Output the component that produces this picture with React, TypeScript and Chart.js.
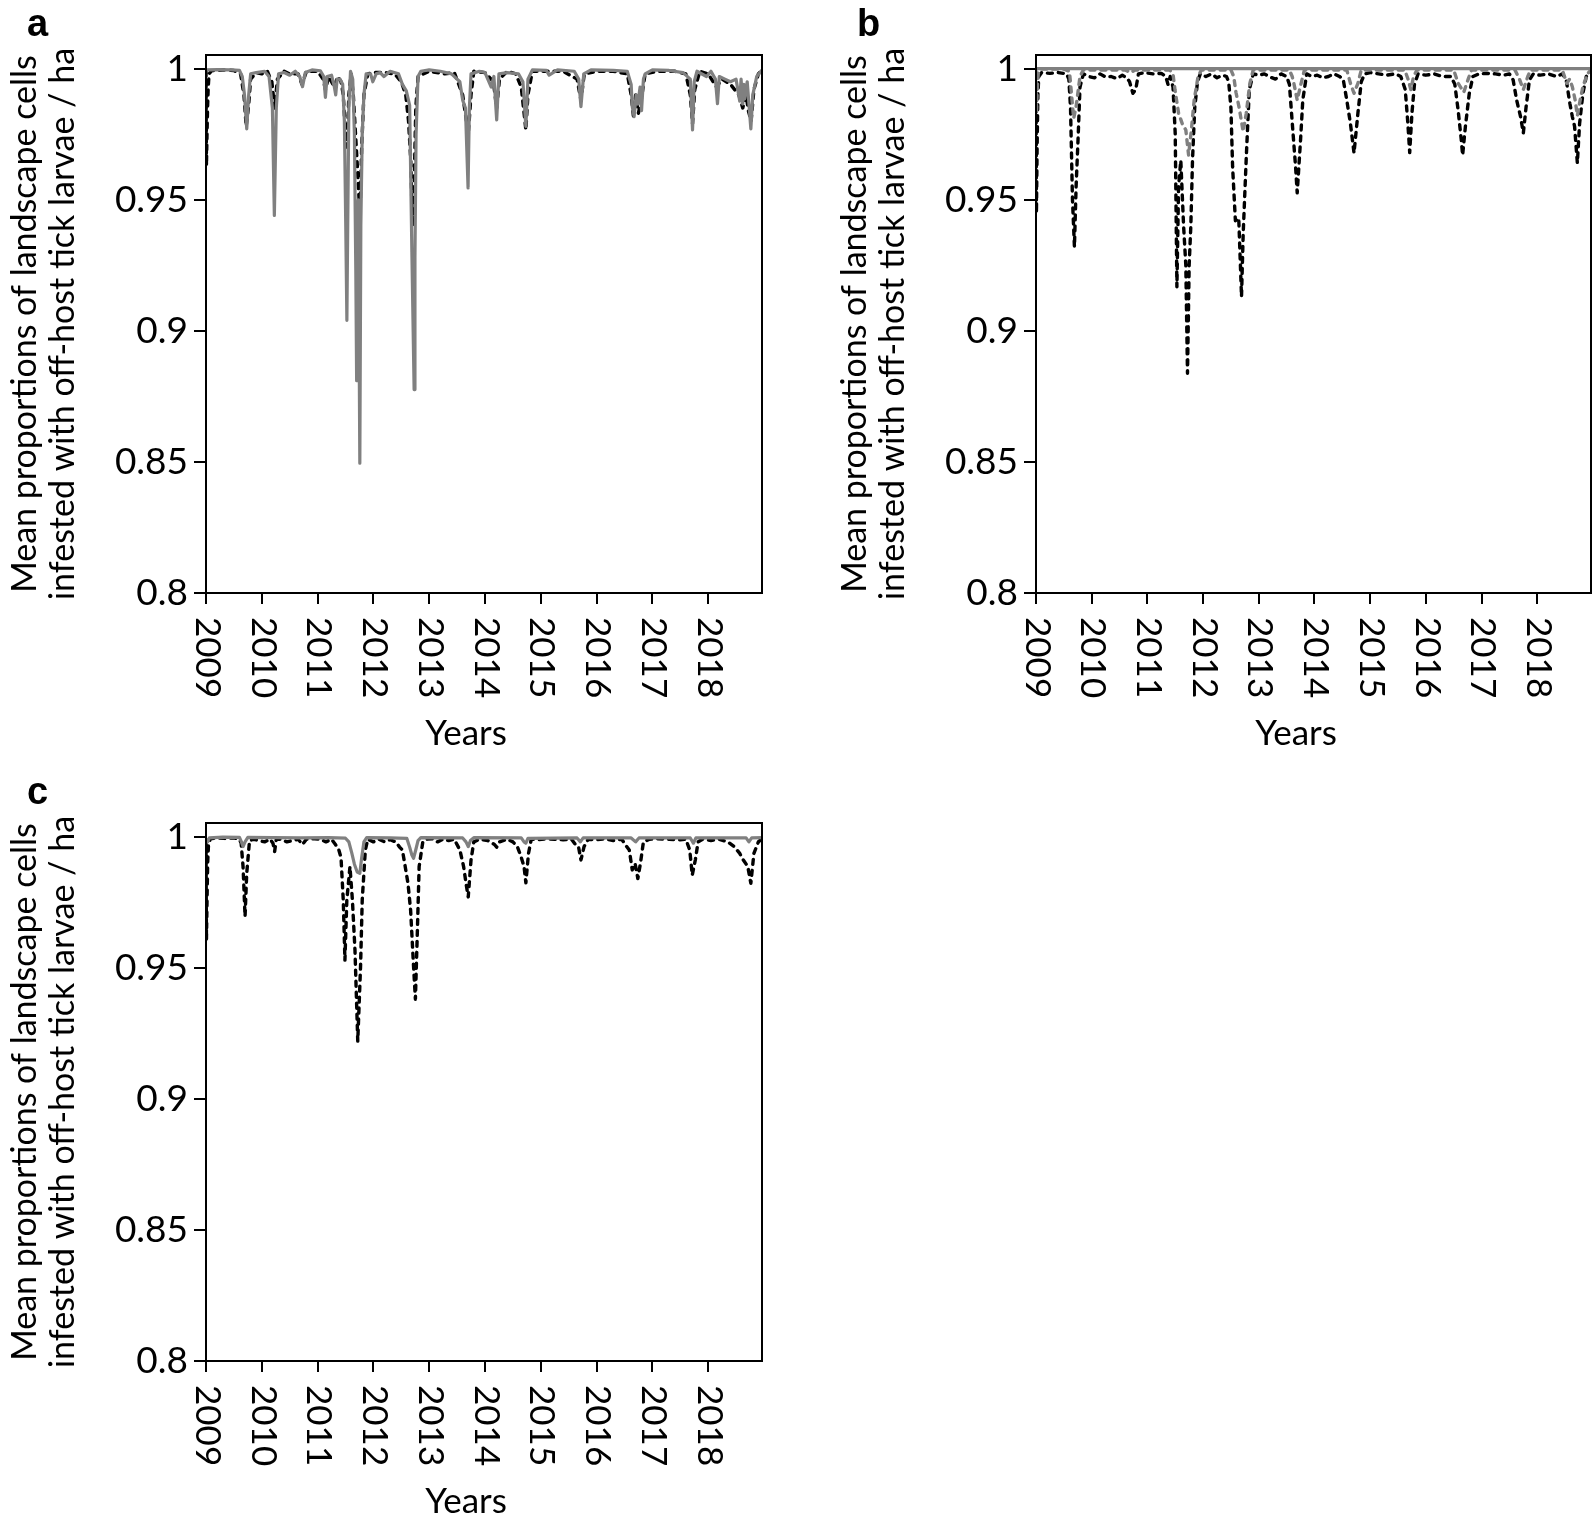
import React, { useEffect, useRef } from 'react';
import { Chart, registerables } from 'chart.js';

Chart.register(...registerables);

type Pt = [number, number];

// ---------- axis settings ----------
const yearTicks: number[] = [2009, 2010, 2011, 2012, 2013, 2014, 2015, 2016, 2017, 2018];
const yTickValues: number[] = [0.8, 0.85, 0.9, 0.95, 1];
const xMin = 2009;
const xMax = 2018.965;
const yMin = 0.8;
const yMax = 1.0052;
const yTitle: string[] = ['Mean proportions of landscape cells', 'infested with off-host tick larvae / ha'];
const xTitle = 'Years';

// ---------- panel a ----------
const aGray: Pt[] = [
  [2009.0, 0.9995], [2009.2, 0.9996], [2009.45, 0.9995], [2009.6, 0.9993], [2009.65, 0.997], [2009.69, 0.99],
  [2009.73, 0.977], [2009.765, 0.99], [2009.8, 0.998], [2009.9, 0.9985], [2010.05, 0.999], [2010.13, 0.997],
  [2010.19, 0.985], [2010.225, 0.944], [2010.26, 0.985], [2010.3, 0.998], [2010.4, 0.9985], [2010.5, 0.9975],
  [2010.6, 0.999], [2010.68, 0.997], [2010.73, 0.9931], [2010.78, 0.9985], [2010.9, 0.9995], [2011.05, 0.9992],
  [2011.11, 0.997], [2011.14, 0.989], [2011.17, 0.997], [2011.25, 0.9975], [2011.3, 0.993], [2011.325, 0.99],
  [2011.35, 0.996], [2011.4, 0.996], [2011.45, 0.994], [2011.48, 0.98], [2011.505, 0.94], [2011.525, 0.904],
  [2011.54, 0.94], [2011.56, 0.985], [2011.59, 0.999], [2011.63, 0.996], [2011.66, 0.975], [2011.685, 0.923],
  [2011.7, 0.881], [2011.715, 0.925], [2011.73, 0.95], [2011.757, 0.8495], [2011.775, 0.94], [2011.8, 0.975],
  [2011.83, 0.99], [2011.87, 0.998], [2011.95, 0.998], [2011.99, 0.995], [2012.05, 0.998], [2012.12, 0.9985],
  [2012.19, 0.997], [2012.3, 0.999], [2012.45, 0.998], [2012.52, 0.994], [2012.59, 0.9915], [2012.65, 0.986],
  [2012.69, 0.93], [2012.73, 0.8776], [2012.745, 0.928], [2012.765, 0.975], [2012.8, 0.997], [2012.85, 0.999],
  [2013.0, 0.9995], [2013.2, 0.999], [2013.4, 0.998], [2013.55, 0.995], [2013.6, 0.988], [2013.65, 0.985],
  [2013.697, 0.9545], [2013.72, 0.985], [2013.75, 0.998], [2013.9, 0.999], [2014.0, 0.9985], [2014.11, 0.993],
  [2014.16, 0.997], [2014.21, 0.9804], [2014.25, 0.998], [2014.4, 0.9985], [2014.6, 0.998], [2014.68, 0.995],
  [2014.733, 0.978], [2014.77, 0.996], [2014.85, 0.9995], [2015.1, 0.9993], [2015.15, 0.9975], [2015.3, 0.9995],
  [2015.6, 0.999], [2015.68, 0.996], [2015.72, 0.9855], [2015.77, 0.998], [2015.9, 0.9995], [2016.3, 0.9993],
  [2016.55, 0.999], [2016.62, 0.994], [2016.64, 0.9855], [2016.673, 0.9817], [2016.71, 0.99], [2016.74, 0.9865],
  [2016.78, 0.993], [2016.806, 0.984], [2016.84, 0.996], [2016.87, 0.998], [2017.0, 0.9995], [2017.3, 0.9993],
  [2017.55, 0.9985], [2017.68, 0.996], [2017.72, 0.9766], [2017.75, 0.995], [2017.8, 0.999], [2017.97, 0.997],
  [2018.05, 0.999], [2018.13, 0.996], [2018.167, 0.9866], [2018.2, 0.997], [2018.3, 0.996], [2018.4, 0.995],
  [2018.5, 0.996], [2018.566, 0.9876], [2018.59, 0.996], [2018.62, 0.9865], [2018.64, 0.994], [2018.655, 0.9885],
  [2018.7, 0.995], [2018.765, 0.977], [2018.8, 0.99], [2018.87, 0.997], [2018.965, 0.9995],
];

const aBlack: Pt[] = [
  [2009.0, 0.999], [2009.008, 0.963], [2009.018, 0.975], [2009.028, 0.985], [2009.04, 0.993], [2009.055, 0.998], [2009.1, 0.9992],
  [2009.3, 0.9995], [2009.5, 0.9993], [2009.62, 0.998], [2009.68, 0.99], [2009.72, 0.978], [2009.76, 0.985],
  [2009.8, 0.996], [2009.9, 0.9985], [2010.0, 0.998], [2010.1, 0.999], [2010.18, 0.995], [2010.23, 0.985],
  [2010.28, 0.996], [2010.4, 0.999], [2010.5, 0.998], [2010.65, 0.998], [2010.72, 0.994], [2010.8, 0.999],
  [2011.0, 0.999], [2011.1, 0.996], [2011.14, 0.992], [2011.2, 0.997], [2011.3, 0.993], [2011.36, 0.997],
  [2011.42, 0.995], [2011.46, 0.99], [2011.5, 0.975], [2011.53, 0.97], [2011.56, 0.99], [2011.6, 0.998],
  [2011.64, 0.99], [2011.68, 0.975], [2011.72, 0.96], [2011.76, 0.943], [2011.79, 0.97], [2011.83, 0.99],
  [2011.9, 0.998], [2012.0, 0.9985], [2012.2, 0.9985], [2012.38, 0.998], [2012.5, 0.995], [2012.58, 0.99],
  [2012.63, 0.98], [2012.67, 0.965], [2012.7, 0.94], [2012.73, 0.955], [2012.76, 0.985], [2012.8, 0.997],
  [2013.0, 0.999], [2013.28, 0.998], [2013.45, 0.9985], [2013.6, 0.99], [2013.7, 0.975], [2013.75, 0.99],
  [2013.8, 0.999], [2014.0, 0.9985], [2014.15, 0.995], [2014.21, 0.985], [2014.26, 0.996], [2014.4, 0.999],
  [2014.55, 0.998], [2014.65, 0.993], [2014.733, 0.9766], [2014.77, 0.99], [2014.85, 0.999], [2015.1, 0.999],
  [2015.4, 0.999], [2015.65, 0.996], [2015.72, 0.988], [2015.78, 0.998], [2016.0, 0.999], [2016.3, 0.999],
  [2016.55, 0.998], [2016.62, 0.99], [2016.66, 0.982], [2016.7, 0.99], [2016.75, 0.983], [2016.8, 0.988],
  [2016.87, 0.998], [2017.1, 0.999], [2017.4, 0.999], [2017.6, 0.998], [2017.68, 0.99], [2017.72, 0.979],
  [2017.76, 0.992], [2017.85, 0.999], [2018.0, 0.998], [2018.15, 0.993], [2018.25, 0.996], [2018.4, 0.994],
  [2018.55, 0.99], [2018.62, 0.985], [2018.68, 0.99], [2018.72, 0.984], [2018.77, 0.98], [2018.82, 0.992],
  [2018.9, 0.998], [2018.965, 0.9995],
];

// ---------- panel b ----------
const bGraySolid: Pt[] = [[2009.0, 1], [2018.965, 1]];

const bGrayDash: Pt[] = [
  [2009.0, 0.999], [2009.008, 0.983], [2009.022, 0.992], [2009.04, 0.998], [2009.07, 0.9998], [2009.5, 0.9998], [2009.6, 0.999],
  [2009.62, 0.9944], [2009.676, 0.981], [2009.72, 0.9855], [2009.79, 0.997], [2009.85, 0.9995], [2010.6, 0.9995],
  [2010.7, 0.9985], [2010.78, 0.9995], [2011.4, 0.9995], [2011.46, 0.998], [2011.495, 0.992], [2011.56, 0.983],
  [2011.626, 0.979], [2011.69, 0.9766], [2011.74, 0.967], [2011.79, 0.9766], [2011.84, 0.988], [2011.91, 0.997],
  [2011.97, 0.9995], [2012.5, 0.9995], [2012.55, 0.997], [2012.59, 0.991], [2012.644, 0.9855], [2012.696, 0.979],
  [2012.72, 0.976], [2012.775, 0.983], [2012.84, 0.9944], [2012.9, 0.9995], [2013.55, 0.9995], [2013.6, 0.997],
  [2013.63, 0.9944], [2013.69, 0.988], [2013.76, 0.9944], [2013.82, 0.9995], [2014.58, 0.9995], [2014.646, 0.9944],
  [2014.71, 0.9906], [2014.78, 0.9944], [2014.84, 0.9995], [2015.62, 0.9995], [2015.68, 0.996], [2015.73, 0.992],
  [2015.78, 0.997], [2015.84, 0.9995], [2016.5, 0.9995], [2016.58, 0.9944], [2016.68, 0.991], [2016.76, 0.996],
  [2016.82, 0.9995], [2017.6, 0.9995], [2017.68, 0.996], [2017.75, 0.992], [2017.83, 0.997], [2017.88, 0.9995],
  [2018.45, 0.9995], [2018.53, 0.9944], [2018.58, 0.996], [2018.63, 0.9931], [2018.68, 0.988], [2018.72, 0.982],
  [2018.77, 0.988], [2018.82, 0.9931], [2018.9, 0.998], [2018.965, 0.9995],
];

const bBlack: Pt[] = [
  [2009.0, 0.998], [2009.008, 0.945], [2009.02, 0.97], [2009.034, 0.99], [2009.05, 0.997], [2009.1, 0.9985], [2009.25, 0.9982],
  [2009.4, 0.9985], [2009.55, 0.998], [2009.59, 0.996], [2009.62, 0.985], [2009.655, 0.95], [2009.69, 0.932],
  [2009.72, 0.955], [2009.755, 0.973], [2009.79, 0.993], [2009.85, 0.998], [2009.95, 0.997], [2010.05, 0.9965],
  [2010.15, 0.998], [2010.25, 0.9968], [2010.35, 0.997], [2010.45, 0.9962], [2010.55, 0.9975], [2010.63, 0.9965],
  [2010.68, 0.995], [2010.74, 0.9906], [2010.79, 0.992], [2010.84, 0.998], [2010.95, 0.9985], [2011.1, 0.998],
  [2011.25, 0.9982], [2011.33, 0.997], [2011.37, 0.994], [2011.41, 0.997], [2011.46, 0.993], [2011.5, 0.975],
  [2011.53, 0.9168], [2011.56, 0.955], [2011.6, 0.965], [2011.65, 0.94], [2011.69, 0.925], [2011.72, 0.8838],
  [2011.75, 0.925], [2011.78, 0.94], [2011.81, 0.965], [2011.85, 0.985], [2011.9, 0.995], [2011.95, 0.998],
  [2012.05, 0.997], [2012.15, 0.998], [2012.25, 0.9965], [2012.35, 0.9975], [2012.42, 0.997], [2012.46, 0.995],
  [2012.5, 0.985], [2012.53, 0.9625], [2012.58, 0.942], [2012.64, 0.943], [2012.69, 0.913], [2012.72, 0.937],
  [2012.775, 0.966], [2012.83, 0.992], [2012.9, 0.998], [2013.0, 0.9975], [2013.1, 0.998], [2013.2, 0.9968],
  [2013.3, 0.996], [2013.4, 0.998], [2013.5, 0.997], [2013.55, 0.994], [2013.615, 0.9754], [2013.66, 0.9627],
  [2013.69, 0.9526], [2013.75, 0.9728], [2013.79, 0.988], [2013.86, 0.998], [2013.95, 0.997], [2014.05, 0.9975],
  [2014.15, 0.9965], [2014.25, 0.997], [2014.35, 0.998], [2014.45, 0.997], [2014.515, 0.996], [2014.58, 0.988],
  [2014.646, 0.979], [2014.71, 0.9678], [2014.78, 0.983], [2014.84, 0.995], [2014.9, 0.998], [2015.0, 0.9985],
  [2015.15, 0.998], [2015.3, 0.9975], [2015.45, 0.998], [2015.55, 0.997], [2015.63, 0.992], [2015.677, 0.979],
  [2015.71, 0.968], [2015.75, 0.983], [2015.795, 0.994], [2015.86, 0.998], [2016.0, 0.9975], [2016.15, 0.998],
  [2016.3, 0.997], [2016.45, 0.997], [2016.52, 0.994], [2016.58, 0.984], [2016.635, 0.973], [2016.66, 0.967],
  [2016.71, 0.978], [2016.78, 0.9906], [2016.845, 0.997], [2016.95, 0.998], [2017.1, 0.9982], [2017.25, 0.998],
  [2017.4, 0.9975], [2017.5, 0.998], [2017.567, 0.9957], [2017.63, 0.988], [2017.7, 0.9817], [2017.75, 0.9754],
  [2017.8, 0.9855], [2017.86, 0.9957], [2017.93, 0.998], [2018.05, 0.9975], [2018.2, 0.998], [2018.35, 0.997],
  [2018.45, 0.998], [2018.52, 0.9957], [2018.585, 0.9868], [2018.63, 0.9817], [2018.67, 0.978], [2018.72, 0.964],
  [2018.76, 0.979], [2018.82, 0.9906], [2018.88, 0.997], [2018.965, 0.9989],
];

// ---------- panel c ----------
const cGray: Pt[] = [
  [2009.0, 0.9992], [2009.03, 0.998], [2009.06, 0.9995], [2009.3, 0.9998], [2009.6, 0.9997], [2009.635, 0.998],
  [2009.664, 0.9962], [2009.7, 0.998], [2009.75, 0.9997], [2010.2, 0.9996], [2010.7, 0.9995], [2011.2, 0.9996],
  [2011.5, 0.9994], [2011.56, 0.998], [2011.61, 0.994], [2011.66, 0.9895], [2011.71, 0.9865], [2011.757, 0.986],
  [2011.79, 0.992], [2011.83, 0.998], [2011.88, 0.9996], [2012.3, 0.9995], [2012.6, 0.9993], [2012.65, 0.996],
  [2012.69, 0.993], [2012.72, 0.9917], [2012.76, 0.995], [2012.8, 0.9985], [2012.85, 0.9996], [2013.6, 0.9995],
  [2013.66, 0.998], [2013.7, 0.9962], [2013.74, 0.9985], [2013.8, 0.9996], [2014.65, 0.9995], [2014.7, 0.998],
  [2014.733, 0.9975], [2014.77, 0.9993], [2015.65, 0.9995], [2015.71, 0.998], [2015.76, 0.9995], [2016.62, 0.9995],
  [2016.7, 0.998], [2016.76, 0.9995], [2017.68, 0.9995], [2017.735, 0.9975], [2017.78, 0.9995], [2018.68, 0.9995],
  [2018.73, 0.998], [2018.78, 0.9995], [2018.965, 0.9996],
];

const cBlack: Pt[] = [
  [2009.0, 0.998], [2009.008, 0.9606], [2009.018, 0.975], [2009.03, 0.99], [2009.045, 0.997], [2009.08, 0.9992], [2009.2, 0.9995],
  [2009.35, 0.9993], [2009.5, 0.9995], [2009.6, 0.999], [2009.63, 0.9975], [2009.664, 0.9886], [2009.7, 0.9695],
  [2009.73, 0.986], [2009.78, 0.9985], [2009.85, 0.999], [2009.95, 0.9985], [2010.05, 0.998], [2010.15, 0.999],
  [2010.2, 0.9975], [2010.23, 0.9943], [2010.26, 0.999], [2010.35, 0.999], [2010.45, 0.998], [2010.55, 0.9985],
  [2010.65, 0.999], [2010.73, 0.997], [2010.8, 0.999], [2010.95, 0.9992], [2011.05, 0.999], [2011.15, 0.998],
  [2011.25, 0.999], [2011.32, 0.997], [2011.38, 0.995], [2011.42, 0.992], [2011.46, 0.9758], [2011.49, 0.9529],
  [2011.524, 0.9758], [2011.58, 0.9886], [2011.624, 0.9758], [2011.67, 0.9567], [2011.72, 0.922], [2011.77, 0.9505],
  [2011.8, 0.9758], [2011.856, 0.995], [2011.9, 0.999], [2012.0, 0.998], [2012.1, 0.999], [2012.2, 0.998],
  [2012.3, 0.9988], [2012.4, 0.998], [2012.47, 0.996], [2012.52, 0.9949], [2012.57, 0.9886], [2012.62, 0.9822],
  [2012.667, 0.972], [2012.72, 0.9505], [2012.753, 0.938], [2012.787, 0.963], [2012.82, 0.9886], [2012.886, 0.998],
  [2012.95, 0.999], [2013.05, 0.9992], [2013.15, 0.998], [2013.25, 0.999], [2013.35, 0.9985], [2013.45, 0.999],
  [2013.55, 0.9949], [2013.617, 0.9886], [2013.66, 0.9822], [2013.7, 0.977], [2013.75, 0.9911], [2013.8, 0.998],
  [2013.9, 0.999], [2014.05, 0.9985], [2014.17, 0.997], [2014.21, 0.996], [2014.26, 0.998], [2014.4, 0.999],
  [2014.5, 0.998], [2014.58, 0.9962], [2014.646, 0.9924], [2014.7, 0.9886], [2014.733, 0.9824], [2014.78, 0.9936],
  [2014.83, 0.999], [2014.95, 0.9988], [2015.1, 0.9992], [2015.25, 0.999], [2015.4, 0.9988], [2015.55, 0.999],
  [2015.62, 0.997], [2015.676, 0.9962], [2015.72, 0.9911], [2015.776, 0.9962], [2015.85, 0.999], [2016.0, 0.9988],
  [2016.15, 0.9992], [2016.3, 0.9985], [2016.45, 0.999], [2016.53, 0.9965], [2016.586, 0.9949], [2016.64, 0.9873],
  [2016.69, 0.9898], [2016.74, 0.984], [2016.786, 0.9898], [2016.84, 0.998], [2016.95, 0.999], [2017.1, 0.9992],
  [2017.3, 0.999], [2017.5, 0.9988], [2017.6, 0.999], [2017.67, 0.9949], [2017.715, 0.9853], [2017.77, 0.9911],
  [2017.82, 0.998], [2017.9, 0.999], [2018.05, 0.9985], [2018.2, 0.999], [2018.35, 0.998], [2018.466, 0.9962],
  [2018.566, 0.9936], [2018.63, 0.9911], [2018.71, 0.9886], [2018.765, 0.9822], [2018.82, 0.9936], [2018.9, 0.998],
  [2018.965, 0.9992],
];

// ---------- styling ----------
const FONT = 'Lato, "Open Sans", sans-serif';
const GRAY = '#808080';
const BLACK = '#000000';

type Series = { data: Pt[]; color: string; dashed: boolean };

const decorPlugin = {
  id: 'decor',
  afterDatasetsDraw(chart: any) {
    const { ctx, chartArea: a } = chart;
    ctx.save();
    ctx.strokeStyle = '#000';
    ctx.lineWidth = 2;
    ctx.strokeRect(a.left, a.top, a.right - a.left, a.bottom - a.top);
    ctx.restore();
  },
  afterDraw(chart: any, _args: any, opts: any) {
    const { ctx, chartArea: a } = chart;
    const xs = chart.scales.x;
    ctx.save();
    ctx.fillStyle = '#000';
    ctx.font = `35px ${FONT}`;
    ctx.textAlign = 'left';
    ctx.textBaseline = 'middle';
    yearTicks.forEach((yr) => {
      const px = xs.getPixelForValue(yr);
      ctx.save();
      ctx.translate(px + 1, a.bottom + 24);
      ctx.rotate(Math.PI / 2);
      ctx.fillText(String(yr), 0, 0);
      ctx.restore();
    });
    ctx.font = `35px ${FONT}`;
    ctx.textAlign = 'center';
    ctx.textBaseline = 'alphabetic';
    ctx.fillText(xTitle, a.left + 260, a.bottom + 152);
    ctx.font = 'bold 38px "Liberation Sans", Arial, sans-serif';
    ctx.textAlign = 'left';
    ctx.fillText(opts.letter, 27, 36);
    ctx.restore();
  },
};

function Panel(props: { letter: string; series: Series[]; left: number; top: number; width: number; height: number; padRight: number }) {
  const ref = useRef<HTMLCanvasElement | null>(null);
  useEffect(() => {
    if (!ref.current) return;
    const datasets = props.series.map((s) => ({
      data: s.data.map(([x, y]) => ({ x, y })),
      borderColor: s.color,
      backgroundColor: s.color,
      borderWidth: s.dashed ? 3.4 : 3.2,
      borderDash: s.dashed ? [5, 6] : [],
      borderCapStyle: s.dashed ? 'round' : 'butt',
      borderJoinStyle: 'round',
      pointRadius: 0,
      tension: 0,
      fill: false,
    }));
    const tickGrid = (len: number) => ({
      display: true,
      drawOnChartArea: false,
      drawTicks: true,
      tickLength: len,
      tickWidth: 2,
      tickColor: '#000',
      color: '#000',
      lineWidth: 2,
    });
    const chart = new Chart(ref.current, {
      type: 'line',
      data: { datasets: datasets as any },
      options: {
        animation: false,
        responsive: false,
        devicePixelRatio: 1,
        events: [],
        layout: { padding: { top: 55, left: 0, right: props.padRight, bottom: props.height - 593 - 150 } },
        plugins: {
          legend: { display: false },
          tooltip: { enabled: false },
          decor: { letter: props.letter },
        } as any,
        scales: {
          x: {
            type: 'linear',
            min: xMin,
            max: xMax,
            afterBuildTicks: (s: any) => { s.ticks = yearTicks.map((v) => ({ value: v })); },
            afterFit: (s: any) => { s.height = 150; },
            ticks: { display: false },
            grid: tickGrid(11) as any,
            border: { display: false },
          },
          y: {
            type: 'linear',
            min: yMin,
            max: yMax,
            afterBuildTicks: (s: any) => { s.ticks = yTickValues.map((v) => ({ value: v })); },
            afterFit: (s: any) => { s.width = 206; },
            ticks: {
              autoSkip: false,
              padding: 6,
              color: '#000',
              font: { family: FONT, size: 37 },
              callback: (v: any) => String(Number(Number(v).toFixed(2))),
            },
            grid: tickGrid(12) as any,
            border: { display: false },
            title: {
              display: true,
              text: yTitle,
              color: '#000',
              font: { family: FONT, size: 34, lineHeight: 1.12 },
              padding: { top: 6, bottom: 0 },
            },
          },
        },
      },
      plugins: [decorPlugin as any],
    });
    return () => chart.destroy();
  }, []);
  return (
    <canvas
      ref={ref}
      width={props.width}
      height={props.height}
      style={{ position: 'absolute', left: props.left, top: props.top, width: props.width, height: props.height }}
    />
  );
}

export default function App() {
  return (
    <div style={{ position: 'absolute', left: 0, top: 0, width: 1594, height: 1524, background: '#fff', overflow: 'hidden' }}>
      <Panel
        letter="a"
        left={0}
        top={0}
        width={800}
        height={768}
        padRight={38}
        series={[
          { data: aGray, color: GRAY, dashed: false },
          { data: aBlack, color: BLACK, dashed: true },
        ]}
      />
      <Panel
        letter="b"
        left={830}
        top={0}
        width={764}
        height={768}
        padRight={3}
        series={[
          { data: bGraySolid, color: GRAY, dashed: false },
          { data: bGrayDash, color: GRAY, dashed: true },
          { data: bBlack, color: BLACK, dashed: true },
        ]}
      />
      <Panel
        letter="c"
        left={0}
        top={768}
        width={800}
        height={756}
        padRight={38}
        series={[
          { data: cGray, color: GRAY, dashed: false },
          { data: cBlack, color: BLACK, dashed: true },
        ]}
      />
    </div>
  );
}
